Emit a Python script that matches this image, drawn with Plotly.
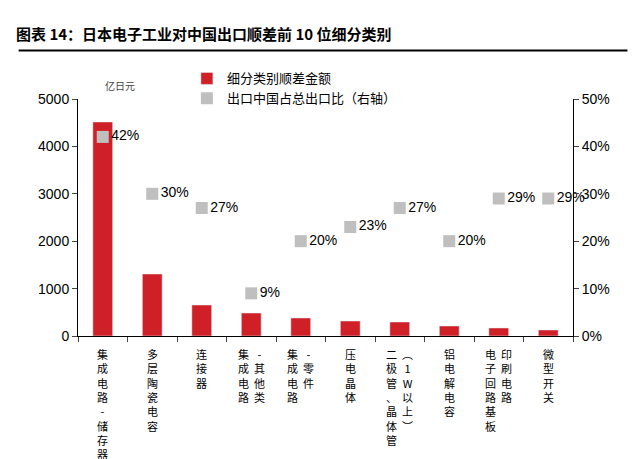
import plotly.graph_objects as go

categories = ["集成电路-储存器", "多层陶瓷电容", "连接器", "集成电路-其他类", "集成电路-零件",
              "压电晶体", "二极管、晶体管(1W以上)", "铝电解电容", "电子回路基板印刷电路", "微型开关"]
label_cols = [["集成电路-储存器"], ["多层陶瓷电容"], ["连接器"], ["集成电路", "-其他类"],
              ["集成电路", "-零件"], ["压电晶体"], ["二极管、晶体管", "︵1W以上︶"], ["铝电解电容"],
              ["电子回路基板", "印刷电路"], ["微型开关"]]
surplus = [4515, 1308, 654, 485, 380, 316, 295, 211, 169, 127]
china_share = [42, 30, 27, 9, 20, 23, 27, 20, 29, 29]

font = "Noto Sans CJK SC"
fig = go.Figure()
fig.add_trace(go.Bar(x=categories, y=surplus, name="细分类别顺差金额",
                     marker_color="#d02027", width=0.4))
fig.add_trace(go.Scatter(x=categories, y=china_share, yaxis="y2", mode="markers+text",
                         name="出口中国占总出口比（右轴）", cliponaxis=False,
                         marker=dict(symbol="square", size=12, color="#bfbfbf"),
                         text=[f"{v}%" for v in china_share], textposition="middle right",
                         textfont=dict(size=14, color="black", family="Arial")))

for cat, cols in zip(categories, label_cols):
    n = len(cols)
    for i, col in enumerate(cols):
        fig.add_annotation(x=cat, xref="x", y=-0.035, yref="paper", yanchor="top",
                           text="<br>".join(col), showarrow=False,
                           xshift=(i - (n - 1) / 2) * 16,
                           font=dict(size=11, family=font, color="black"))

fig.add_annotation(x=-0.13, xref="paper", y=1.33, yref="paper", yanchor="top", xanchor="left",
                   text="<b>图表 14：日本电子工业对中国出口顺差前 10 位细分类别</b>",
                   showarrow=False, font=dict(size=15, family=font, color="black"))
fig.add_shape(type="line", xref="paper", yref="paper", x0=-0.12, x1=1.11, y0=1.205, y1=1.205,
              line=dict(color="black", width=2))
fig.add_annotation(x=0.05, xref="paper", y=1.097, yref="paper", text="亿日元", showarrow=False,
                   font=dict(size=10, family=font, color="#444"))

fig.update_layout(
    width=640, height=459, plot_bgcolor="white", paper_bgcolor="white",
    margin=dict(l=70, r=75, t=91, b=131),
    font=dict(family="Arial", size=14, color="black"),
    showlegend=True,
    legend=dict(x=0.22, y=1.15, xanchor="left", yanchor="top", bgcolor="rgba(0,0,0,0)",
                font=dict(size=13, family=font), itemwidth=30, tracegroupgap=2),
    xaxis=dict(showticklabels=False, showline=True, linecolor="black", ticks="outside",
               tickson="boundaries", ticklen=5, range=[-0.5, 9.5]),
    yaxis=dict(range=[0, 5000], dtick=1000, showline=True, linecolor="black", ticks="outside",
               showgrid=False, zeroline=False),
    yaxis2=dict(range=[0, 50], dtick=10, ticksuffix="%", overlaying="y", side="right",
                showline=True, linecolor="black", ticks="outside", showgrid=False),
)
fig.write_html("out.html")
